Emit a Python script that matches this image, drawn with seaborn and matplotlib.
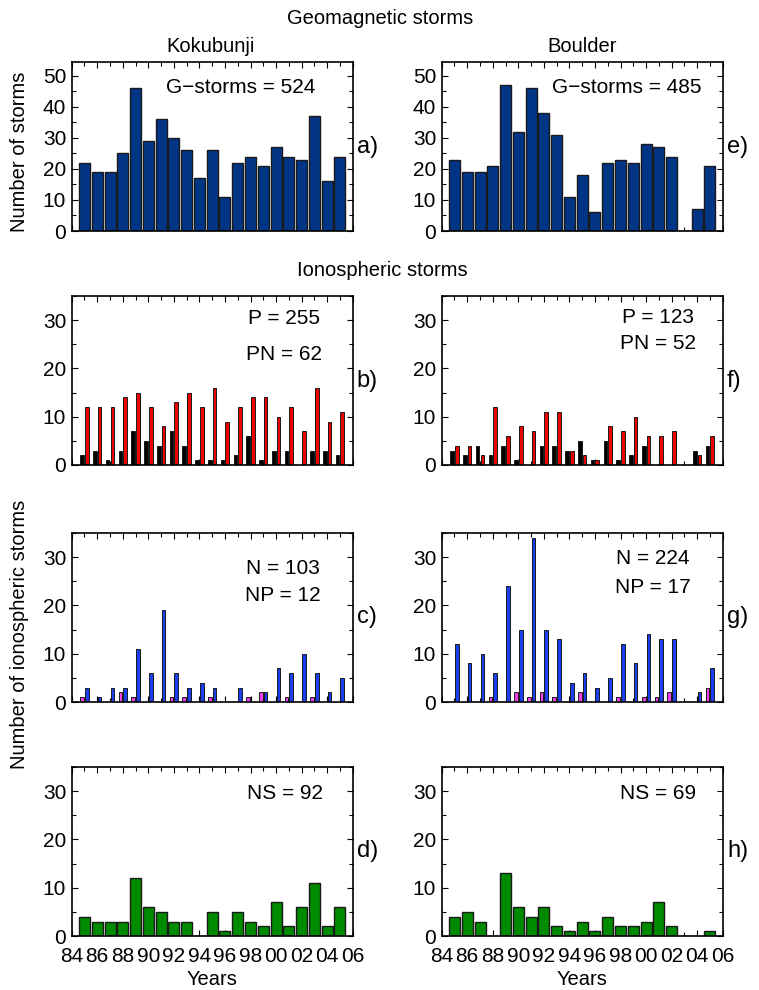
import numpy as np
import pandas as pd
import matplotlib
matplotlib.use("Agg")
import matplotlib.pyplot as plt
from matplotlib.ticker import MultipleLocator
import seaborn as sns

sns.set_theme(style="white")
plt.rcParams['font.family'] = ['Liberation Sans', 'DejaVu Sans']
plt.rcParams['text.color'] = 'black'
plt.rcParams['axes.labelcolor'] = 'black'
plt.rcParams['xtick.color'] = 'black'
plt.rcParams['ytick.color'] = 'black'

# ---------------- data ----------------
years = list(range(1985, 2006))          # 21 yearly bins
tick_years = list(range(1984, 2007, 2))
tick_labels = [f"{y % 100:02d}" for y in tick_years]

kok_g = [22, 19, 19, 25, 46, 29, 36, 30, 26, 17, 26, 11, 22, 24, 21, 27, 24, 23, 37, 16, 24]
bou_g = [23, 19, 19, 21, 47, 32, 46, 38, 31, 11, 18, 6, 22, 23, 22, 28, 27, 24, 0, 7, 21]

kok_p = [12, 12, 12, 14, 15, 12, 8, 13, 15, 12, 16, 9, 12, 14, 14, 10, 12, 7, 16, 9, 11]
kok_pn = [2, 3, 1, 3, 7, 5, 4, 7, 4, 1, 1, 1, 2, 6, 1, 3, 3, 0, 3, 3, 2]
bou_p = [4, 4, 2, 12, 6, 8, 7, 11, 11, 3, 2, 1, 8, 7, 10, 6, 6, 7, 0, 2, 6]
bou_pn = [3, 2, 4, 2, 4, 1, 0, 4, 4, 3, 5, 1, 5, 1, 2, 4, 0, 0, 0, 3, 4]

kok_n = [3, 1, 3, 3, 11, 6, 19, 6, 3, 4, 3, 0, 3, 0, 2, 7, 6, 10, 6, 2, 5]
kok_np = [1, 0, 0, 2, 1, 0, 0, 1, 1, 0, 1, 0, 0, 1, 2, 0, 1, 0, 1, 0, 0]
bou_n = [12, 8, 10, 6, 24, 15, 34, 15, 13, 4, 6, 3, 5, 12, 8, 14, 13, 13, 0, 2, 7]
bou_np = [0, 0, 0, 1, 0, 2, 1, 2, 1, 0, 2, 0, 0, 1, 0, 1, 1, 2, 0, 0, 3]

kok_ns = [4, 3, 3, 3, 12, 6, 5, 3, 3, 0, 5, 1, 5, 3, 2, 7, 2, 6, 11, 2, 6]
bou_ns = [4, 5, 3, 0, 13, 6, 4, 6, 2, 1, 3, 1, 4, 2, 2, 3, 7, 2, 0, 0, 1]

C_G = "#003585"
C_RED = "#ee0000"
C_BLACK = "#000000"
C_BLUE = "#1a40f0"
C_MAG = "#f040f0"
C_GREEN = "#008a00"
EDGE = "#1a1a1a"

W, H = 759, 990
fig = plt.figure(figsize=(W / 100, H / 100), dpi=100)

col_left = [71.7, 441.7]
col_w = 281
rows = [(62, 231), (296, 465), (533, 702), (767, 936)]


def make_ax(r, c):
    top, bot = rows[r]
    return fig.add_axes([col_left[c] / W, 1 - bot / H, col_w / W, (bot - top) / H])


def style(ax, ymax, ymajor, bottom_labels):
    ax.set_xlim(1984, 2006)
    ax.set_ylim(0, ymax)
    ax.set_xticks(tick_years)
    ax.xaxis.set_minor_locator(MultipleLocator(1))
    ax.yaxis.set_major_locator(MultipleLocator(ymajor))
    ax.yaxis.set_minor_locator(MultipleLocator(5))
    ax.tick_params(axis='both', which='both', direction='in', top=True, right=True,
                   bottom=True, left=True, width=0.8, color='black')
    ax.tick_params(axis='both', which='major', length=4, labelsize=15, pad=4)
    ax.tick_params(axis='x', which='major', pad=8)
    ax.tick_params(axis='both', which='minor', length=3)
    if bottom_labels:
        ax.set_xticklabels(tick_labels)
        ax.set_xlabel("Years", fontsize=14.5, labelpad=3)
    else:
        ax.set_xticklabels([])
        ax.set_xlabel("")
    ax.set_ylabel("")
    for s in ax.spines.values():
        s.set_linewidth(1.2)
        s.set_color('black')
        s.set_visible(True)


def single(ax, vals, color):
    df = pd.DataFrame({"year": years, "count": vals})
    sns.barplot(data=df, x="year", y="count", native_scale=True, color=color,
                width=0.86, edgecolor=EDGE, linewidth=1.0, saturation=1,
                errorbar=None, ax=ax)


def paired(ax, left_vals, right_vals, left_name, right_name, left_col, right_col):
    df = pd.DataFrame({
        "year": years * 2,
        "count": list(left_vals) + list(right_vals),
        "kind": [left_name] * len(years) + [right_name] * len(years),
    })
    sns.barplot(data=df, x="year", y="count", hue="kind", hue_order=[left_name, right_name],
                palette={left_name: left_col, right_name: right_col},
                native_scale=True, dodge=True, width=0.74, gap=0.22,
                edgecolor=EDGE, linewidth=0.7, saturation=1,
                errorbar=None, legend=False, ax=ax)


FS = 15
# Row a/e: geomagnetic storms
ax = make_ax(0, 0); single(ax, kok_g, C_G); style(ax, 54.5, 10, False)
ax.text(0.60, 0.85, "G\u2212storms = 524", transform=ax.transAxes, ha='center', va='center', fontsize=FS)
ax.text(1.015, 0.5, "a)", transform=ax.transAxes, ha='left', va='center', fontsize=17)
ax = make_ax(0, 1); single(ax, bou_g, C_G); style(ax, 54.5, 10, False)
ax.text(0.66, 0.85, "G\u2212storms = 485", transform=ax.transAxes, ha='center', va='center', fontsize=FS)
ax.text(1.015, 0.5, "e)", transform=ax.transAxes, ha='left', va='center', fontsize=17)

# Row b/f: positive storms
ax = make_ax(1, 0); paired(ax, kok_pn, kok_p, "PN", "P", C_BLACK, C_RED); style(ax, 35, 10, False)
ax.text(0.755, 0.864, "P = 255", transform=ax.transAxes, ha='center', va='center', fontsize=FS)
ax.text(0.755, 0.651, "PN = 62", transform=ax.transAxes, ha='center', va='center', fontsize=FS)
ax.text(1.015, 0.5, "b)", transform=ax.transAxes, ha='left', va='center', fontsize=17)
ax = make_ax(1, 1); paired(ax, bou_pn, bou_p, "PN", "P", C_BLACK, C_RED); style(ax, 35, 10, False)
ax.text(0.77, 0.87, "P = 123", transform=ax.transAxes, ha='center', va='center', fontsize=FS)
ax.text(0.77, 0.72, "PN = 52", transform=ax.transAxes, ha='center', va='center', fontsize=FS)
ax.text(1.015, 0.5, "f)", transform=ax.transAxes, ha='left', va='center', fontsize=17)

# Row c/g: negative storms
ax = make_ax(2, 0); paired(ax, kok_np, kok_n, "NP", "N", C_MAG, C_BLUE); style(ax, 35, 10, False)
ax.text(0.75, 0.787, "N = 103", transform=ax.transAxes, ha='center', va='center', fontsize=FS)
ax.text(0.75, 0.633, "NP = 12", transform=ax.transAxes, ha='center', va='center', fontsize=FS)
ax.text(1.015, 0.5, "c)", transform=ax.transAxes, ha='left', va='center', fontsize=17)
ax = make_ax(2, 1); paired(ax, bou_np, bou_n, "NP", "N", C_MAG, C_BLUE); style(ax, 35, 10, False)
ax.text(0.75, 0.852, "N = 224", transform=ax.transAxes, ha='center', va='center', fontsize=FS)
ax.text(0.75, 0.675, "NP = 17", transform=ax.transAxes, ha='center', va='center', fontsize=FS)
ax.text(1.015, 0.5, "g)", transform=ax.transAxes, ha='left', va='center', fontsize=17)

# Row d/h: NS storms
ax = make_ax(3, 0); single(ax, kok_ns, C_GREEN); style(ax, 35, 10, True)
ax.text(0.76, 0.846, "NS = 92", transform=ax.transAxes, ha='center', va='center', fontsize=FS)
ax.text(1.015, 0.5, "d)", transform=ax.transAxes, ha='left', va='center', fontsize=17)
ax = make_ax(3, 1); single(ax, bou_ns, C_GREEN); style(ax, 35, 10, True)
ax.text(0.77, 0.846, "NS = 69", transform=ax.transAxes, ha='center', va='center', fontsize=FS)
ax.text(1.015, 0.5, "h)", transform=ax.transAxes, ha='left', va='center', fontsize=17)

# Figure texts
TS = 14.5
fig.text(380 / W, 1 - 19 / H, "Geomagnetic storms", ha='center', va='center', fontsize=TS)
fig.text(211 / W, 1 - 46 / H, "Kokubunji", ha='center', va='center', fontsize=TS)
fig.text(582 / W, 1 - 46 / H, "Boulder", ha='center', va='center', fontsize=TS)
fig.text(382 / W, 1 - 270 / H, "Ionospheric storms", ha='center', va='center', fontsize=TS)
fig.text(20 / W, 1 - 152 / H, "Number of storms", ha='center', va='center', rotation=90, fontsize=TS)
fig.text(20 / W, 1 - 634 / H, "Number of ionospheric storms", ha='center', va='center', rotation=90, fontsize=TS)

fig.savefig("out.png", dpi=100, facecolor='white')
